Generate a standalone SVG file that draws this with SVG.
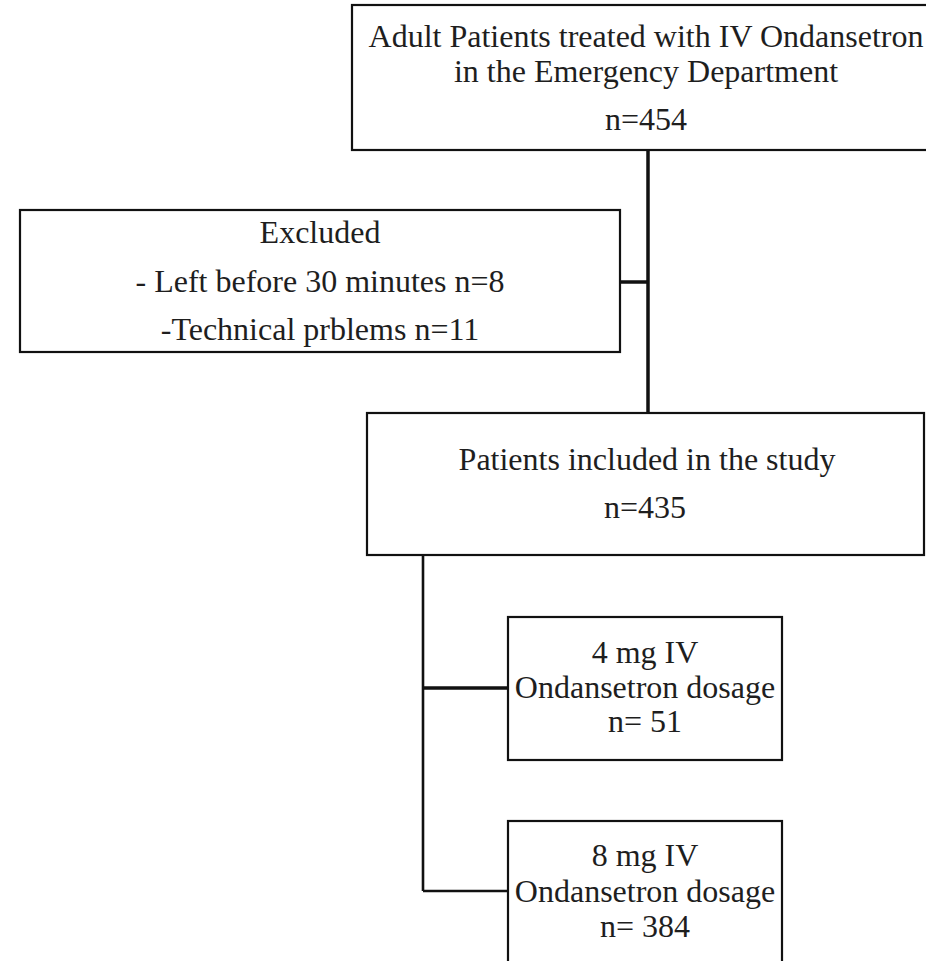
<svg xmlns="http://www.w3.org/2000/svg" width="926" height="961" viewBox="0 0 926 961">
<style>
.box{fill:#fff;stroke:#111;stroke-width:2.2}
.t{font-family:"Liberation Serif","Times New Roman",serif;font-size:32px;fill:#1e1e1e;text-anchor:middle}
.c{fill:none;stroke:#111;stroke-width:3.5}
.c2{fill:none;stroke:#111;stroke-width:2.6}
</style>
<rect width="926" height="961" fill="#fff"/>
<g id="connectors">
<line class="c" x1="648" y1="150" x2="648" y2="413"/>
<line class="c" x1="620" y1="282" x2="648" y2="282"/>
<line class="c2" x1="423" y1="555" x2="423" y2="891"/>
<line class="c" x1="423" y1="688" x2="508" y2="688"/>
<line class="c2" x1="423" y1="891" x2="508" y2="891"/>
</g>
<g id="node-adult">
<rect class="box" x="352" y="5" width="600" height="145"/>
<text class="t" x="646" y="47">Adult Patients treated with IV Ondansetron</text>
<text class="t" x="646" y="82">in the Emergency Department</text>
<text class="t" x="646" y="130">n=454</text>
</g>
<g id="node-excluded">
<rect class="box" x="20" y="210" width="600" height="142"/>
<text class="t" x="320" y="243">Excluded</text>
<text class="t" x="320" y="292">- Left before 30 minutes n=8</text>
<text class="t" x="320" y="340">-Technical prblems n=11</text>
</g>
<g id="node-included">
<rect class="box" x="367" y="413" width="557" height="142"/>
<text class="t" x="647" y="470">Patients included in the study</text>
<text class="t" x="645" y="518">n=435</text>
</g>
<g id="node-4mg">
<rect class="box" x="508" y="617" width="274" height="143"/>
<text class="t" x="645" y="663">4 mg IV</text>
<text class="t" x="645" y="698">Ondansetron dosage</text>
<text class="t" x="645" y="732">n= 51</text>
</g>
<g id="node-8mg">
<rect class="box" x="508" y="821" width="274" height="150"/>
<text class="t" x="645" y="866">8 mg IV</text>
<text class="t" x="645" y="902">Ondansetron dosage</text>
<text class="t" x="645" y="937">n= 384</text>
</g>
</svg>
